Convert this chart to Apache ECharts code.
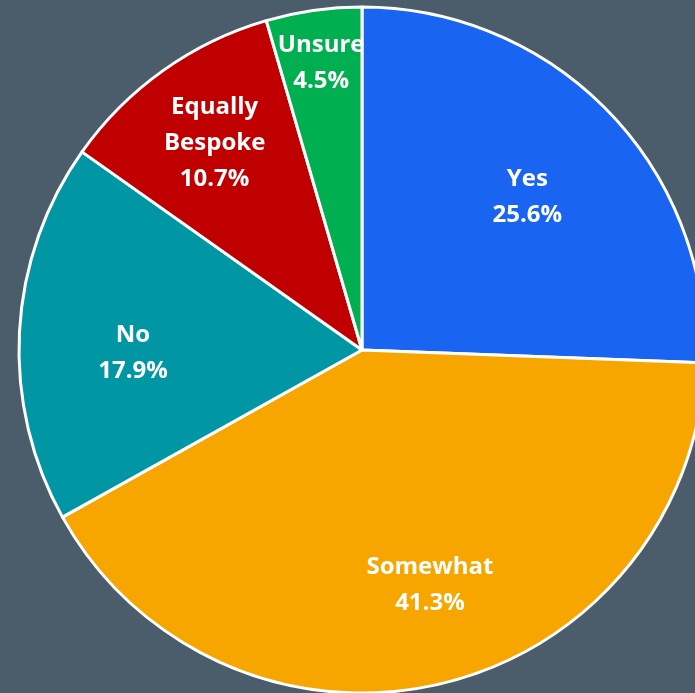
<!DOCTYPE html>
<html><head><meta charset="utf-8">
<script src="https://cdn.jsdelivr.net/npm/echarts@6/dist/echarts.min.js"></script>
<style>html,body{margin:0;padding:0;background:#4b5c6a;}#c{width:695px;height:693px;}</style>
</head><body><div id="c"></div>
<script>
const categories = ['Yes', 'Somewhat', 'No', 'Equally\nBespoke', 'Unsure'];
const values = [25.6, 41.3, 17.9, 10.7, 4.5];
const colors = ['#1a64f2', '#f7a600', '#0096a4', '#c00000', '#00b050'];
const labelRadius = [225, 245, 229, 254, 290];
const labelAngleShift = [1.2, -2.6, -3.8, 0, 0];
const CX = 362, CY = 350, R = 343;

const chart = echarts.init(document.getElementById('c'), null, {renderer: 'canvas'});
chart.setOption({
  backgroundColor: '#4b5c6a',
  animation: false,
  series: [{
    type: 'pie',
    center: [CX, CY],
    radius: [0, R],
    startAngle: 90,
    clockwise: true,
    avoidLabelOverlap: false,
    itemStyle: { borderColor: '#ffffff', borderWidth: 3 },
    label: {
      show: true,
      position: 'inside',
      color: '#ffffff',
      fontFamily: 'Open Sans',
      fontWeight: 'bold',
      fontSize: 24,
      lineHeight: 36,
      formatter: p => p.name + '\n' + p.value.toFixed(1) + '%'
    },
    labelLine: { show: false },
    emphasis: { disabled: true },
    labelLayout: function (params) {
      const r = params.labelRect;
      const lx = r.x + r.width / 2, ly = r.y + r.height / 2;
      const a = Math.atan2(ly - CY, lx - CX) + labelAngleShift[params.dataIndex] * Math.PI / 180;
      const d = labelRadius[params.dataIndex];
      return { x: CX + d * Math.cos(a), y: CY + d * Math.sin(a) };
    },
    data: categories.map((c, i) => ({ name: c, value: values[i], itemStyle: { color: colors[i] } }))
  }]
});
</script></body></html>
